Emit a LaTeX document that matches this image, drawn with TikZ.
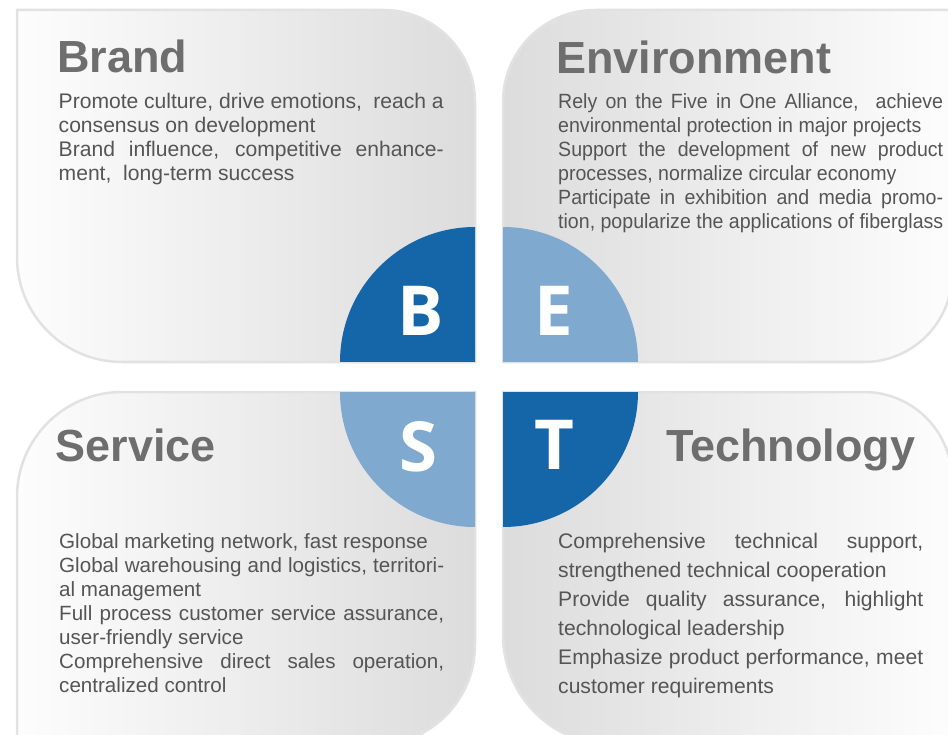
\documentclass[tikz,border=0pt]{standalone}
\usepackage{fontspec}
\setmainfont{Liberation Sans}
\newfontfamily\letterfont{Open Sans}
\newfontfamily\condensedfont{Liberation Sans}[FakeStretch=0.95]
\definecolor{darkblue}{HTML}{1466A9}
\definecolor{lightblue}{HTML}{80A9D0}
\definecolor{titlegray}{HTML}{6E6E6E}
\definecolor{bodygray}{HTML}{555555}
\definecolor{panelgray}{HTML}{DCDCDC}
\definecolor{panelwhite}{HTML}{FDFDFD}
\definecolor{panelborder}{HTML}{E2E2E2}
\newcommand\JLine[2]{\hbox to #1{#2}}
\newcommand\NLine[1]{\hbox{#1}}
\tikzset{
  panel/.style={draw=panelborder, line width=2.5pt, shading=axis},
  ltr/.style={panel, left color=panelwhite, right color=panelgray},
  rtl/.style={panel, left color=panelgray, right color=panelwhite},
  title/.style={anchor=base west, inner sep=0pt, text=titlegray, font=\fontsize{45}{50}\selectfont\bfseries},
  bodytext/.style={anchor=base west, inner sep=0pt, text=bodygray, font=\fontsize{20.6}{24}\selectfont},
  largebody/.style={bodytext, font=\fontsize{21.1}{24}\selectfont},
  condbody/.style={bodytext, font=\condensedfont\fontsize{20.6}{24}\selectfont},
  letter/.style={inner sep=0pt, text=white, font=\letterfont\bfseries\fontsize{69}{75}\selectfont},
}
\begin{document}
\begin{tikzpicture}[x=1pt,y=-1pt]
\clip (0,0) rectangle (948,735);
\fill[white] (0,0) rectangle (948,735);
% panels
\path[ltr] (17,10) -- (383,10) arc[start angle=270, end angle=360, radius=92] -- (475,362) -- (122,362) arc[start angle=90, end angle=180, radius=105] -- cycle;
\path[rtl] (503,362) -- (503,102) arc[start angle=180, end angle=270, radius=92] -- (952,10) -- (952,274) arc[start angle=0, end angle=90, radius=88] -- cycle;
\path[ltr] (17,745) -- (17,497) arc[start angle=180, end angle=270, radius=105] -- (475,392) -- (475,645) arc[start angle=0, end angle=90, radius=100] -- cycle;
\path[rtl] (503,392) -- (864,392) arc[start angle=270, end angle=360, radius=88] -- (952,745) -- (613,745) arc[start angle=90, end angle=180, radius=110] -- cycle;
% quadrants
\fill[darkblue] (475,362) -- (340,362) arc[start angle=180, end angle=270, radius=135] -- cycle;
\fill[lightblue] (503,362) -- (503,227) arc[start angle=270, end angle=360, radius=135] -- cycle;
\fill[lightblue] (475,392) -- (475,527) arc[start angle=90, end angle=180, radius=135] -- cycle;
\fill[darkblue] (503,392) -- (638,392) arc[start angle=0, end angle=90, radius=135] -- cycle;
\node[letter] (B) at (420.5,311) {B};
\node[letter] (E) at (554,311) {E};
\node[letter] (S) at (418.5,447) {S};
\node[letter] (T) at (554.5,445) {T};
% titles
\node[title] (brand) at (57,73) {Brand};
\node[title] (env) at (556,74) {Environment};
\node[title] (service) at (55.5,461) {Service};
\node[title] (tech) at (666,461) {Technology};
% bodies
\node[largebody] (brandtext) at (58.5,109) {\vtop{\baselineskip=24pt
  \JLine{385pt}{Promote culture, drive emotions,~ reach a}
  \NLine{consensus on development}
  \JLine{385pt}{Brand influence, competitive enhance-}
  \NLine{ment,~ long-term success}}};
\node[condbody] (envtext) at (558,109) {\vtop{\baselineskip=24pt
  \JLine{385pt}{Rely on the Five in One Alliance,~ achieve}
  \NLine{environmental protection in major projects}
  \JLine{385pt}{Support the development of new product}
  \NLine{processes, normalize circular economy}
  \JLine{385pt}{Participate in exhibition and media promo-}
  \NLine{tion, popularize the applications of fiberglass}}};
\node[bodytext] (servicetext) at (59,548) {\vtop{\baselineskip=24pt
  \NLine{Global marketing network, fast response}
  \JLine{385pt}{Global warehousing and logistics, territori-}
  \NLine{al management}
  \JLine{385pt}{Full process customer service assurance,}
  \NLine{user-friendly service}
  \JLine{385pt}{Comprehensive direct sales operation,}
  \NLine{centralized control}}};
\node[largebody] (techtext) at (558,548) {\vtop{\baselineskip=29pt
  \JLine{365pt}{Comprehensive technical support,}
  \NLine{strengthened technical cooperation}
  \JLine{365pt}{Provide quality assurance, highlight}
  \NLine{technological leadership}
  \JLine{365pt}{Emphasize product performance, meet}
  \NLine{customer requirements}}};
\end{tikzpicture}
\end{document}
